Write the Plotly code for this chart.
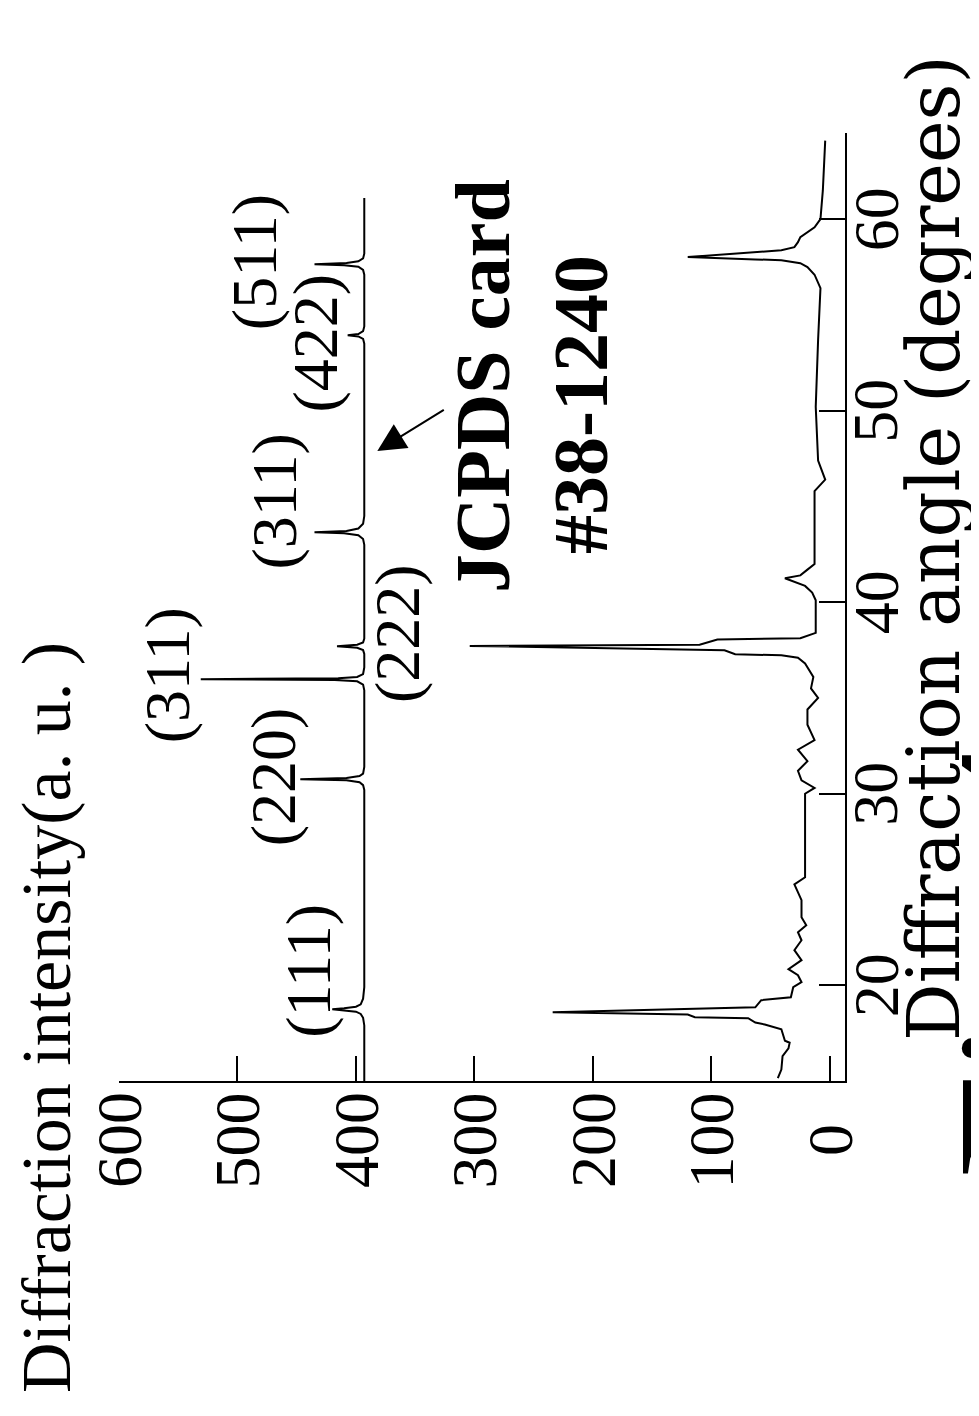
import plotly.graph_objects as go

# ---------------- data ----------------
# Sample XRD pattern (angle in degrees, intensity in a.u.)
sample_theta = [15.15, 15.6, 16.3, 16.7, 17.0, 17.1, 17.7, 17.95, 18.05, 18.28,
                18.33, 18.47, 18.59, 18.85, 19.22, 19.37, 19.9, 20.16, 20.52, 20.84,
                21.31, 21.83, 22.35, 22.77, 23.13, 23.55, 24.44, 24.86, 25.27, 25.64,
                30.0, 30.3, 30.7, 31.2, 31.7, 32.3, 32.8, 33.6, 34.4, 35.0,
                35.5, 36.1, 36.8, 37.1, 37.23, 37.28, 37.49, 37.72, 37.78, 38.05,
                38.12, 38.4, 40.1, 40.5, 40.85, 41.25, 41.4, 41.7, 42.0, 45.8,
                46.4, 47.4, 50.2, 53.7, 56.4, 57.1, 57.5, 57.7, 57.86, 57.9,
                58.02, 58.38, 58.54, 58.8, 59.06, 59.58, 60.0, 61.5, 64.1]
sample_int = [44, 41, 40, 35, 34, 38, 41, 55, 63, 69,
              114, 120, 234, 63, 58, 33, 31, 24, 27, 35,
              24, 30, 24, 27, 20, 24, 24, 27, 30, 21,
              21, 13, 24, 27, 19, 27, 13, 19, 19, 10,
              16, 14, 21, 27, 41, 80, 89, 304, 110, 95,
              25, 12, 12, 15, 21, 38, 25, 19, 13, 13,
              4, 10, 12, 10, 8, 13, 19, 25, 41, 63,
              120, 41, 30, 27, 25, 13, 8, 6, 4]

# JCPDS card #38-1240 reference pattern (offset)
ref_theta = [15.0, 17.9, 18.3, 18.5, 18.62, 18.7, 18.75, 18.8, 18.88, 19.0, 19.3, 19.9,
             30.2, 30.45, 30.6, 30.7, 30.76, 30.82, 30.92, 31.05, 31.4,
             35.4, 35.7, 35.87, 35.94, 35.98, 36.03, 36.1, 36.25, 36.6,
             37.3, 37.5, 37.62, 37.7, 37.78, 37.9, 38.1,
             43.0, 43.3, 43.5, 43.6, 43.65, 43.72, 43.85, 44.1, 44.5,
             53.5, 53.75, 53.88, 53.94, 54.0, 54.15, 54.4,
             57.1, 57.35, 57.52, 57.6, 57.65, 57.71, 57.8, 57.95, 58.2,
             61.1]
ref_int = [393, 393, 394, 396, 400, 410, 420, 410, 400, 396, 394, 393,
           393, 394, 397, 408, 447, 408, 397, 394, 393,
           393, 394, 399, 418, 531, 415, 399, 394, 393,
           393, 394, 399, 416, 399, 394, 393,
           393, 394, 398, 410, 435, 408, 398, 394, 393,
           393, 394, 398, 407, 398, 394, 393,
           393, 394, 398, 410, 435, 408, 398, 394, 393,
           393]

# Peak labels (Miller indices) and their positions (intensity, angle)
peak_labels = ["(111)", "(220)", "(311)", "(222)", "(311)", "(422)", "(511)"]
peak_label_int = [440, 470, 559, 365, 469, 434, 485]
peak_label_theta = [20.73, 30.86, 36.16, 38.36, 45.27, 53.54, 57.77]

intensity_ticks = [0, 100, 200, 300, 400, 500, 600]
angle_ticks = [20, 30, 40, 50, 60]

# ---------------- layout geometry ----------------
W, H = 979, 1416
L, R, T, B = 111, 837, 125, 1073   # plot area in pixels


def px(x):
    return (x - L) / (R - L)


def py(y):
    return (B - y) / (B - T)


FONT = "Liberation Serif, Times New Roman, serif"
WIDE = "DejaVu Serif, Liberation Serif, serif"

fig = go.Figure()
fig.add_trace(go.Scatter(x=ref_int, y=ref_theta, mode="lines",
                         line=dict(color="black", width=2), showlegend=False))
fig.add_trace(go.Scatter(x=sample_int, y=sample_theta, mode="lines",
                         line=dict(color="black", width=2), showlegend=False))

ann = []
# peak labels
for t, xi, yt in zip(peak_labels, peak_label_int, peak_label_theta):
    ann.append(dict(text=t, x=xi, y=yt, xref="x", yref="y", showarrow=False,
                    textangle=-90, xanchor="center", yanchor="middle",
                    font=dict(family=FONT, size=64, color="black")))
# intensity tick labels
for v in intensity_ticks:
    ann.append(dict(text=str(v), x=v, y=py(1132), xref="x", yref="paper",
                    showarrow=False, textangle=-90, xanchor="center", yanchor="middle",
                    font=dict(family=FONT, size=64, color="black")))
# angle tick labels
for v in angle_ticks:
    ann.append(dict(text=str(v), x=px(868), y=v, xref="paper", yref="y",
                    showarrow=False, textangle=-90, xanchor="center", yanchor="middle",
                    font=dict(family=FONT, size=64, color="black")))
# axis titles
ann.append(dict(text="Diffraction intensity(a. u. )", x=px(38), y=py(1010),
                xref="paper", yref="paper", showarrow=False, textangle=-90,
                xanchor="center", yanchor="middle",
                font=dict(family=FONT, size=70, color="black")))
ann.append(dict(text="Diffraction angle (degrees)", x=px(926), y=py(540),
                xref="paper", yref="paper", showarrow=False, textangle=-90,
                xanchor="center", yanchor="middle",
                font=dict(family=WIDE, size=72, color="black")))
# JCPDS card text
ann.append(dict(text="<b>JCPDS card</b>", x=px(474), y=py(378),
                xref="paper", yref="paper", showarrow=False, textangle=-90,
                xanchor="center", yanchor="middle",
                font=dict(family=FONT, size=78, color="black")))
ann.append(dict(text="<b>#38-1240</b>", x=px(572), y=py(397),
                xref="paper", yref="paper", showarrow=False, textangle=-90,
                xanchor="center", yanchor="middle",
                font=dict(family=FONT, size=78, color="black")))
# arrow pointing to reference pattern
ann.append(dict(text="", x=382, y=47.9, xref="x", yref="y", showarrow=True,
                ax=68, ay=-42, arrowhead=2, arrowsize=2.8, arrowwidth=2,
                arrowcolor="black"))
# figure caption (partly cut off by the page edge, as in the source page)
ann.append(dict(text="Fig. 4", x=px(1016), y=py(950), xref="paper", yref="paper",
                showarrow=False, textangle=-90, xanchor="center", yanchor="middle",
                font=dict(family=FONT, size=190, color="black")))

fig.update_layout(
    width=W, height=H,
    margin=dict(l=L, r=W - R, t=T, b=H - B, pad=0),
    paper_bgcolor="white", plot_bgcolor="white",
    showlegend=False,
    annotations=ann,
    xaxis=dict(range=[600, -12.7], showgrid=False, zeroline=False,
               showline=True, linecolor="black", linewidth=2,
               ticks="inside", ticklen=25, tickwidth=2, tickcolor="black",
               tickvals=intensity_ticks, showticklabels=False),
    yaxis=dict(range=[15, 64.5], side="right", showgrid=False, zeroline=False,
               showline=True, linecolor="black", linewidth=2,
               ticks="inside", ticklen=26, tickwidth=2, tickcolor="black",
               tickvals=angle_ticks, showticklabels=False),
)

fig.write_html("out.html")
